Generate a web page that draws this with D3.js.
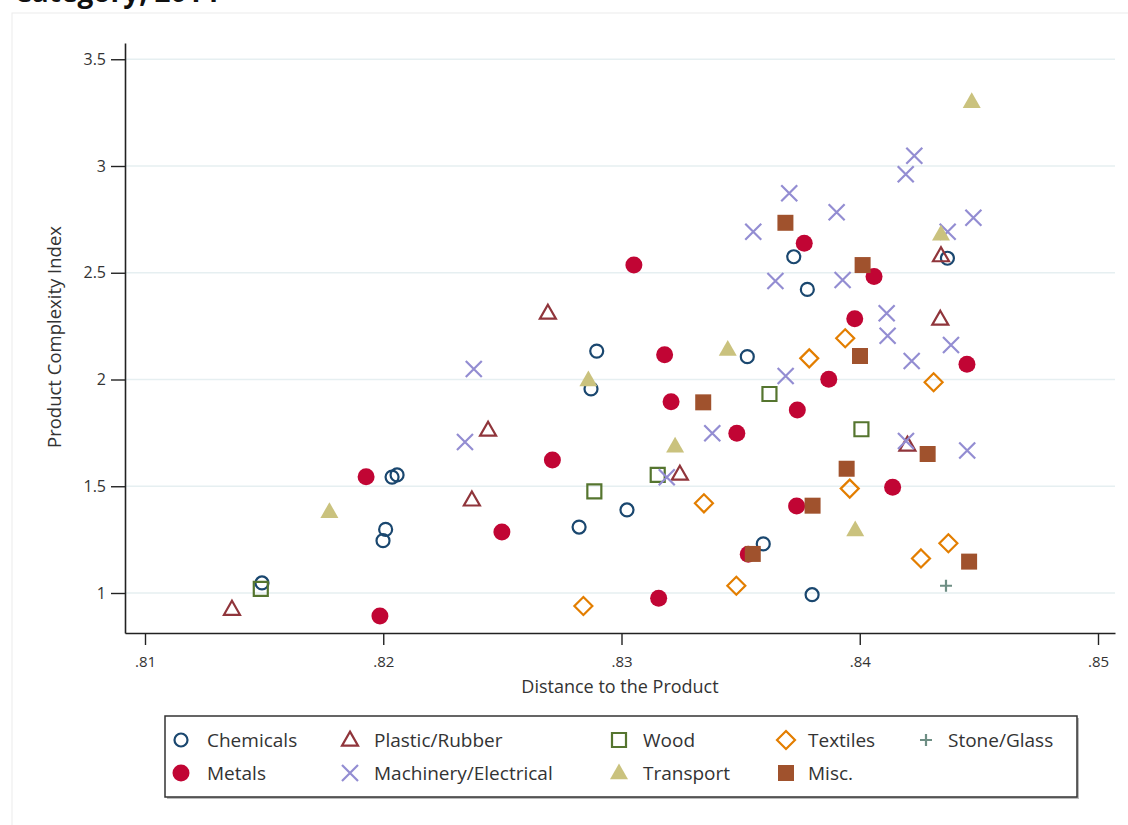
<!DOCTYPE html>
<html>
<head>
<meta charset="utf-8">
<script src="https://cdn.jsdelivr.net/npm/d3@7"></script>
<style>
  body { margin: 0; background: #fff; }
  text { font-family: "Open Sans", "Noto Sans", sans-serif; }
</style>
</head>
<body>
<div id="chart"></div>
<script>
// values: [distance, complexity]
var chemicals = [[0.81491,1.047],[0.82037,1.543],[0.82058,1.553],[0.8201,1.298],[0.81999,1.245],[0.82822,1.309],[0.83023,1.389],[0.82872,1.956],[0.82896,2.133],[0.83528,2.107],[0.83595,1.23],[0.838,0.992],[0.83723,2.575],[0.8378,2.422],[0.84368,2.568]];
var plastic = [[0.81365,0.924],[0.82691,2.311],[0.8244,1.763],[0.82372,1.436],[0.83245,1.557],[0.84341,2.58],[0.84338,2.283],[0.842,1.693]];
var wood = [[0.81486,1.019],[0.82886,1.476],[0.83152,1.553],[0.83621,1.932],[0.84007,1.767]];
var textiles = [[0.8284,0.939],[0.83346,1.42],[0.83482,1.034],[0.83788,2.099],[0.83939,2.193],[0.83958,1.489],[0.8431,1.987],[0.84257,1.162],[0.84372,1.233]];
var stone = [[0.84362,1.034]];
var metals = [[0.81986,0.892],[0.81928,1.545],[0.82498,1.286],[0.8271,1.623],[0.83052,2.536],[0.83181,2.116],[0.83208,1.896],[0.83484,1.748],[0.83156,0.975],[0.83738,1.857],[0.8387,2.001],[0.83735,1.407],[0.83532,1.181],[0.83767,2.638],[0.8406,2.482],[0.83979,2.285],[0.8445,2.071],[0.84138,1.495]];
var machinery = [[0.82343,1.707],[0.8238,2.049],[0.83381,1.748],[0.8319,1.542],[0.83689,2.016],[0.83553,2.692],[0.83704,2.872],[0.83903,2.783],[0.83646,2.461],[0.83928,2.466],[0.84229,3.048],[0.84193,2.961],[0.84369,2.692],[0.84477,2.758],[0.84113,2.31],[0.84117,2.205],[0.84383,2.162],[0.84218,2.087],[0.84194,1.712],[0.84451,1.667]];
var transport = [[0.81774,1.381],[0.82861,1.998],[0.83225,1.688],[0.83446,2.141],[0.83981,1.295],[0.84341,2.681],[0.8447,3.301]];
var misc = [[0.83343,1.893],[0.83802,1.409],[0.83551,1.183],[0.83945,1.582],[0.84001,2.11],[0.83688,2.734],[0.84012,2.536],[0.84285,1.651],[0.84459,1.147]];

var categories = ["Chemicals","Plastic/Rubber","Wood","Textiles","Stone/Glass","Metals","Machinery/Electrical","Transport","Misc."];
var seriesValues = [chemicals, plastic, wood, textiles, stone, metals, machinery, transport, misc];
var xTicks = [0.81, 0.82, 0.83, 0.84, 0.85];
var yTicks = [1, 1.5, 2, 2.5, 3, 3.5];

// marker look per category (stata s2color style)
var styles = [
  {shape:"circle",   color:"#1a476f", fill:false},
  {shape:"triangle", color:"#90353b", fill:false},
  {shape:"square",   color:"#55752f", fill:false},
  {shape:"diamond",  color:"#e37e00", fill:false},
  {shape:"plus",     color:"#6e8e84", fill:false},
  {shape:"circle",   color:"#c10534", fill:true},
  {shape:"x",        color:"#938dd2", fill:false},
  {shape:"triangle", color:"#cac27e", fill:true},
  {shape:"square",   color:"#a0522d", fill:true}
];

// custom symbol types for d3.symbol, size = half width in px
var shapes = {
  circle: {draw: function(c, s){ c.moveTo(s,0); c.arc(0,0,s,0,2*Math.PI); }},
  triangle: {draw: function(c, s){ c.moveTo(0,-s*1.05); c.lineTo(s,s*0.7); c.lineTo(-s,s*0.7); c.closePath(); }},
  square: {draw: function(c, s){ c.rect(-s,-s,2*s,2*s); }},
  diamond: {draw: function(c, s){ c.moveTo(0,-s); c.lineTo(s,0); c.lineTo(0,s); c.lineTo(-s,0); c.closePath(); }},
  plus: {draw: function(c, s){ c.moveTo(-s,0); c.lineTo(s,0); c.moveTo(0,-s); c.lineTo(0,s); }},
  x: {draw: function(c, s){ c.moveTo(-s,-s); c.lineTo(s,s); c.moveTo(s,-s); c.lineTo(-s,s); }}
};
function markerSize(st) {
  if (st.shape == "circle") return st.fill ? 8.5 : 6.5;
  if (st.shape == "triangle") return st.fill ? 9 : 8;
  if (st.shape == "square") return st.fill ? 8 : 7;
  if (st.shape == "diamond") return 9;
  if (st.shape == "plus") return 6;
  return 8;
}
function symbolPath(st) {
  return d3.symbol().type(shapes[st.shape]).size(markerSize(st))();
}

var width = 1128, height = 825;
var svg = d3.select("#chart").append("svg")
  .attr("width", width)
  .attr("height", height);

// outer frame
svg.append("rect")
  .attr("x", 12).attr("y", 13)
  .attr("width", 1130).attr("height", 830)
  .attr("fill", "none")
  .attr("stroke", "#ececec");

// cut-off title
svg.append("text")
  .attr("x", 14).attr("y", 2)
  .style("font-size", "28px")
  .style("font-weight", "bold")
  .style("fill", "#111")
  .text("Category, 2014");

var plotLeft = 125, plotRight = 1115, plotTop = 43, plotBottom = 633;
var x = d3.scaleLinear().domain([0.81 - 20/23825, 0.81 + 970/23825]).range([plotLeft, plotRight]);
var y = d3.scaleLinear().domain([1 - 40/213.5, 1 + 550/213.5]).range([plotBottom, plotTop]);

// grid
svg.append("g").selectAll("line")
  .data(yTicks)
  .enter().append("line")
  .attr("x1", plotLeft).attr("x2", plotRight)
  .attr("y1", function(d){ return y(d); })
  .attr("y2", function(d){ return y(d); })
  .attr("stroke", "#e6eff1")
  .attr("stroke-width", 1.5);

var xAxis = svg.append("g")
  .attr("transform", "translate(0," + plotBottom + ")")
  .call(d3.axisBottom(x).tickValues(xTicks).tickSize(12).tickSizeOuter(0).tickPadding(11)
    .tickFormat(function(d){ return d3.format(".2f")(d).replace(/^0/, ""); }));
var yAxis = svg.append("g")
  .attr("transform", "translate(" + plotLeft + ",0)")
  .call(d3.axisLeft(y).tickValues(yTicks).tickSize(14).tickSizeOuter(0).tickPadding(5)
    .tickFormat(d3.format("")));

[xAxis, yAxis].forEach(function(g){
  g.attr("font-family", "'Open Sans', sans-serif");
  g.select(".domain").attr("stroke", "#222").attr("stroke-width", 1.6);
  g.selectAll(".tick line").attr("stroke", "#222").attr("stroke-width", 1.4);
  g.selectAll(".tick text").attr("fill", "#333");
});
xAxis.attr("font-size", 15).selectAll(".tick text").style("font-size", "15px");
yAxis.attr("font-size", 16).selectAll(".tick text").style("font-size", "16px");

svg.append("text")
  .attr("x", (plotLeft + plotRight) / 2).attr("y", 693)
  .attr("text-anchor", "middle")
  .style("font-size", "18px")
  .style("fill", "#333")
  .text("Distance to the Product");

svg.append("text")
  .attr("transform", "translate(61,337) rotate(-90)")
  .attr("text-anchor", "middle")
  .style("font-size", "18.5px")
  .style("fill", "#333")
  .text("Product Complexity Index");

// points
seriesValues.forEach(function(vals, i){
  var st = styles[i];
  svg.append("g").attr("class", "series")
    .selectAll("path")
    .data(vals)
    .enter().append("path")
    .attr("transform", function(d){ return "translate(" + x(d[0]) + "," + y(d[1]) + ")"; })
    .attr("d", symbolPath(st))
    .attr("fill", st.fill ? st.color : "none")
    .attr("stroke", st.fill ? "none" : st.color)
    .attr("stroke-width", 2.2);
});

// legend
var legend = svg.append("g");
legend.append("rect")
  .attr("x", 167).attr("y", 718)
  .attr("width", 912).attr("height", 81)
  .attr("fill", "#bbb");
legend.append("rect")
  .attr("x", 165).attr("y", 716)
  .attr("width", 912).attr("height", 81)
  .attr("fill", "#fff")
  .attr("stroke", "#333")
  .attr("stroke-width", 1.5);

var colX = [181, 350, 619, 786, 926];
var textOffset = [26, 24, 24, 22, 22];
var legendPos = [[0,0],[1,0],[2,0],[3,0],[4,0],[0,1],[1,1],[2,1],[3,1]];
var items = legend.selectAll(".item")
  .data(categories)
  .enter().append("g")
  .attr("class", "item")
  .attr("transform", function(d, i){ return "translate(" + colX[legendPos[i][0]] + "," + (740 + legendPos[i][1]*33) + ")"; });
items.append("path")
  .attr("d", function(d, i){ return symbolPath(styles[i]); })
  .attr("fill", function(d, i){ return styles[i].fill ? styles[i].color : "none"; })
  .attr("stroke", function(d, i){ return styles[i].fill ? "none" : styles[i].color; })
  .attr("stroke-width", 2.2);
items.append("text")
  .attr("x", function(d, i){ return textOffset[legendPos[i][0]]; })
  .attr("y", 6.5)
  .style("font-size", "19px")
  .style("fill", "#333")
  .text(function(d){ return d; });
</script>
</body>
</html>
